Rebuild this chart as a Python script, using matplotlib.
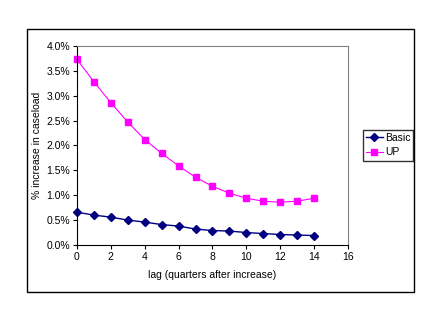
import matplotlib
matplotlib.use("Agg")
import matplotlib.pyplot as plt
from matplotlib.patches import Rectangle
from matplotlib.ticker import FuncFormatter, MultipleLocator

plt.rcParams['font.family'] = ['Liberation Sans', 'DejaVu Sans']
plt.rcParams['font.size'] = 7

# quarters after the increase
lag = [0, 1, 2, 3, 4, 5, 6, 7, 8, 9, 10, 11, 12, 13, 14]
# % increase in caseload
basic = [0.66, 0.60, 0.56, 0.50, 0.46, 0.41, 0.38, 0.32, 0.29, 0.28,
         0.25, 0.23, 0.21, 0.20, 0.19]
up = [3.73, 3.28, 2.86, 2.47, 2.12, 1.84, 1.59, 1.36, 1.18, 1.04,
      0.94, 0.88, 0.86, 0.88, 0.94]

fig = plt.figure(figsize=(4.41, 3.26), dpi=100)

# black frame round the whole chart
fig.patches.append(Rectangle((0.0612, 0.1043), 0.8776, 0.807,
                             transform=fig.transFigure, fill=False,
                             edgecolor='black', linewidth=1.0))

ax = fig.add_axes([0.1746, 0.2485, 0.6145, 0.6104])
ax.plot(lag, basic, color='#000080', marker='D', markersize=3.8,
        linewidth=1.0, label='Basic', clip_on=False)
ax.plot(lag, up, color='#FF00FF', marker='s', markersize=3.8,
        linewidth=0.8, label='UP', clip_on=False)

ax.set_xlim(0, 16)
ax.set_ylim(0, 4.0)
ax.xaxis.set_major_locator(MultipleLocator(2))
ax.yaxis.set_major_locator(MultipleLocator(0.5))
ax.yaxis.set_major_formatter(FuncFormatter(lambda v, p: f'{v:.1f}%'))
ax.tick_params(direction='out', length=3, width=0.8, pad=2, labelsize=7.5)

for side in ('top', 'right'):
    ax.spines[side].set_color('#808080')
for side in ('left', 'bottom'):
    ax.spines[side].set_color('black')

ax.set_xlabel('lag (quarters after increase)', labelpad=6, fontsize=7.5)
ax.set_ylabel('% increase in caseload', labelpad=3, fontsize=7.5)

leg = ax.legend(loc='upper left', bbox_to_anchor=(1.055, 0.58),
                frameon=True, fancybox=False, edgecolor='black',
                fontsize=7.5, borderpad=0.3, handlelength=1.6,
                handletextpad=0.2, labelspacing=0.45, borderaxespad=0)
leg.get_frame().set_linewidth(1.0)

plt.savefig('out.png', dpi=100)
